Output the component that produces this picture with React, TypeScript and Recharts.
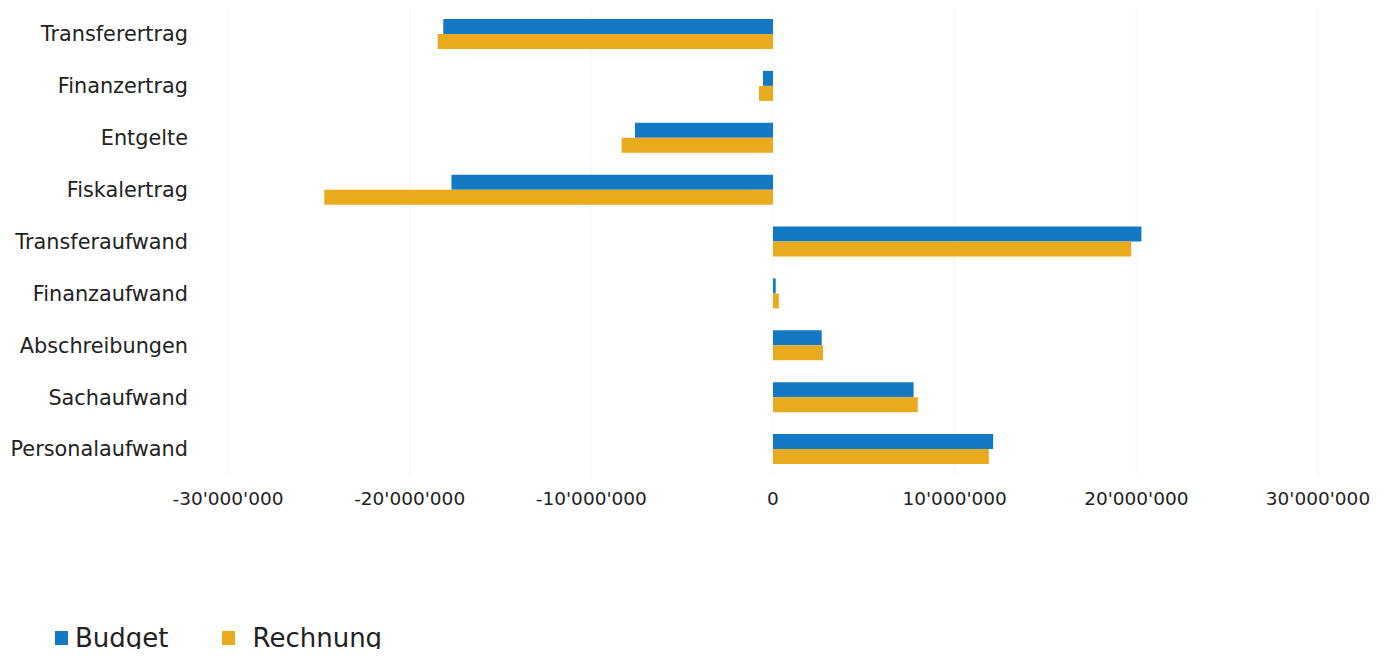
import React from "react";
import { BarChart, Bar, XAxis, YAxis, CartesianGrid, Legend } from "recharts";

const categories = [
  "Transferertrag",
  "Finanzertrag",
  "Entgelte",
  "Fiskalertrag",
  "Transferaufwand",
  "Finanzaufwand",
  "Abschreibungen",
  "Sachaufwand",
  "Personalaufwand",
];

const budget = [
  -18150000, -550000, -7600000, -17700000, 20280000, 150000, 2680000, 7740000, 12120000,
];

const rechnung = [
  -18460000, -770000, -8330000, -24700000, 19720000, 320000, 2750000, 7970000, 11880000,
];

const xTicks = [-30000000, -20000000, -10000000, 0, 10000000, 20000000, 30000000];

const seriesNames = { budget: "Budget", rechnung: "Rechnung" };
const colors = { budget: "#1479c4", rechnung: "#e9aa1e" };

const data = categories.map((name, i) => ({
  name,
  budget: budget[i],
  rechnung: rechnung[i],
}));

const fmt = (v: number) => {
  const s = Math.abs(v).toString().replace(/\B(?=(\d{3})+(?!\d))/g, "'");
  return v < 0 ? "-" + s : s;
};

const LegendContent = (props: any) => {
  const payload = props.payload || [];
  return (
    <div style={{ display: "flex", alignItems: "center", fontFamily: "DejaVu Sans", fontSize: 26, color: "#222" }}>
      {payload.map((p: any, i: number) => (
        <div
          key={i}
          style={{ display: "flex", alignItems: "center", marginLeft: i === 0 ? 47 : 53 }}
        >
          <span
            style={{
              display: "inline-block",
              width: 13,
              height: 14,
              background: p.color,
              marginRight: i === 0 ? 7 : 18,
            }}
          />
          <span>{p.value}</span>
        </div>
      ))}
    </div>
  );
};

export default function App() {
  return (
    <div style={{ width: 1371, height: 641 }}>
      <BarChart
        width={1371}
        height={641}
        data={data}
        layout="vertical"
        margin={{ top: 0, right: 61, bottom: 0, left: 0 }}
        barGap={0}
        style={{ fontFamily: "DejaVu Sans" }}
      >
        <CartesianGrid horizontal={false} stroke="#f4f4f4" />
        <XAxis
          type="number"
          domain={[-30000000, 30000000]}
          ticks={xTicks}
          tickFormatter={fmt}
          axisLine={false}
          tickLine={false}
          tickSize={0}
          tickMargin={17}
          height={174}
          tick={{ fill: "#222", fontSize: 18.5 }}
          interval={0}
        />
        <YAxis
          type="category"
          dataKey="name"
          width={220}
          axisLine={false}
          tickLine={false}
          tickSize={0}
          tickMargin={40}
          tick={{ fill: "#222", fontSize: 20.8 }}
          interval={0}
        />
        <Legend
          layout="horizontal"
          verticalAlign="middle"
          align="center"
          wrapperStyle={{ left: 0, top: 615, width: 600 }}
          content={LegendContent}
        />
        <Bar
          dataKey="budget"
          name={seriesNames.budget}
          fill={colors.budget}
          barSize={15}
          isAnimationActive={false}
        />
        <Bar
          dataKey="rechnung"
          name={seriesNames.rechnung}
          fill={colors.rechnung}
          barSize={15}
          isAnimationActive={false}
        />
      </BarChart>
    </div>
  );
}
